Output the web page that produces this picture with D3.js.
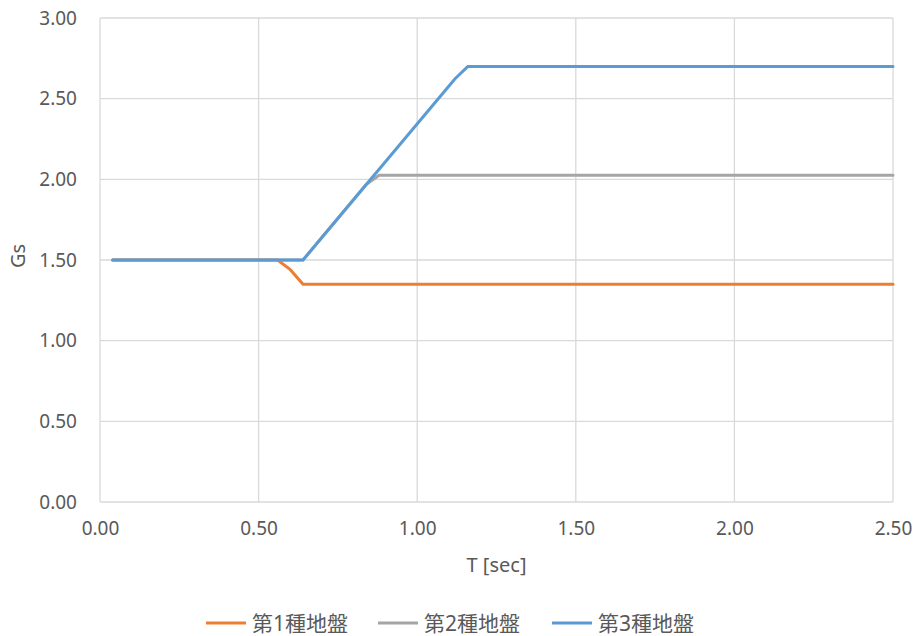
<!DOCTYPE html>
<html>
<head>
<meta charset="utf-8">
<script src="https://cdn.jsdelivr.net/npm/d3@7"></script>
<style>
  body { margin: 0; background: #fff; }
  text { font-family: "Noto Sans", "Noto Sans CJK JP", sans-serif; fill: #595959; }
</style>
</head>
<body>
<svg id="chart" width="915" height="636"></svg>
<script>
// period T [sec] at the break points of the curves
var periods = [0.04, 0.56, 0.60, 0.64, 0.84, 0.88, 1.12, 1.16, 2.50];
var gs1 = [1.50, 1.50, 1.44, 1.35, 1.35, 1.35, 1.35, 1.35, 1.35];
var gs2 = [1.50, 1.50, 1.50, 1.50, 1.969, 2.025, 2.025, 2.025, 2.025];
var gs3 = [1.50, 1.50, 1.50, 1.50, 1.969, 2.063, 2.625, 2.70, 2.70];
var seriesNames = ["第1種地盤", "第2種地盤", "第3種地盤"];
var seriesColors = ["#ED7D31", "#A5A5A5", "#5B9BD5"];
var xTicks = [0, 0.5, 1.0, 1.5, 2.0, 2.5];
var yTicks = [0, 0.5, 1.0, 1.5, 2.0, 2.5, 3.0];

var svg = d3.select("#chart");
var plotLeft = 100, plotRight = 893, plotTop = 18, plotBottom = 502;

var x = d3.scaleLinear().domain([0, 2.5]).range([plotLeft, plotRight]);
var y = d3.scaleLinear().domain([0, 3]).range([plotBottom, plotTop]);

// grid
var grid = svg.append("g");
grid.selectAll(".gx").data(xTicks).enter().append("line")
	.attr("x1", function (d) { return x(d); }).attr("x2", function (d) { return x(d); })
	.attr("y1", plotTop).attr("y2", plotBottom)
	.attr("stroke", "#D9D9D9").attr("stroke-width", 1.3);
grid.selectAll(".gy").data(yTicks).enter().append("line")
	.attr("x1", plotLeft).attr("x2", plotRight)
	.attr("y1", function (d) { return y(d); }).attr("y2", function (d) { return y(d); })
	.attr("stroke", "#D9D9D9").attr("stroke-width", 1.3);

// axes (labels only)
var xAxis = svg.append("g").attr("transform", "translate(0," + plotBottom + ")")
	.call(d3.axisBottom(x).tickValues(xTicks).tickFormat(d3.format(".2f")).tickSize(0).tickPadding(20));
var yAxis = svg.append("g").attr("transform", "translate(" + plotLeft + ",0)")
	.call(d3.axisLeft(y).tickValues(yTicks).tickFormat(d3.format(".2f")).tickSize(0).tickPadding(23));
[xAxis, yAxis].forEach(function (a) {
	a.select(".domain").remove();
	a.selectAll("text").style("font-size", "19px").attr("fill", "#595959");
});

// lines
var allSeries = [gs1, gs2, gs3];
var line = d3.line()
	.x(function (d, i) { return x(periods[i]); })
	.y(function (d) { return y(d); });
svg.selectAll(".series").data(allSeries).enter().append("path")
	.attr("d", line)
	.attr("fill", "none")
	.attr("stroke", function (d, i) { return seriesColors[i]; })
	.attr("stroke-width", 3)
	.attr("stroke-linejoin", "round")
	.attr("stroke-linecap", "round");

// axis titles
svg.append("text").attr("x", (plotLeft + plotRight) / 2).attr("y", 572)
	.attr("text-anchor", "middle").style("font-size", "20px").text("T [sec]");
svg.append("text").attr("transform", "translate(25,256) rotate(-90)")
	.attr("text-anchor", "middle").style("font-size", "20px").text("Gs");

// legend
var legendX = [206, 378, 552];
var legend = svg.selectAll(".legend").data(seriesNames).enter().append("g")
	.attr("transform", function (d, i) { return "translate(" + legendX[i] + ",623)"; });
legend.append("line").attr("x1", 0).attr("x2", 40)
	.attr("stroke", function (d, i) { return seriesColors[i]; }).attr("stroke-width", 3);
legend.append("text").attr("x", 46).attr("y", 8)
	.style("font-size", "21px").text(function (d) { return d; });
</script>
</body>
</html>
